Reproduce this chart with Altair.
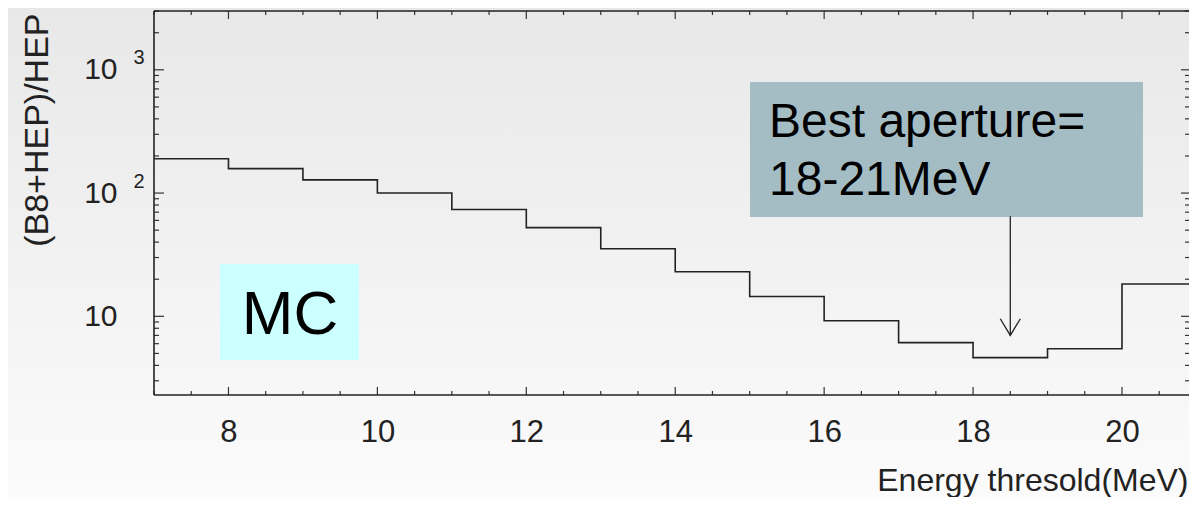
import altair as alt
import pandas as pd

# ---- data ----
edges = [7, 8, 9, 10, 11, 12, 13, 14, 15, 16, 17, 18, 19, 20, 21]
ratio = [190, 158, 128, 100, 73.6, 52.4, 35.3, 23.0, 14.5, 9.2, 6.12, 4.62, 5.45, 18.3]

x_major_ticks = [8, 10, 12, 14, 16, 18, 20]
x_minor_ticks = [7, 7.5, 8.5, 9, 9.5, 10.5, 11, 11.5, 12.5, 13, 13.5, 14.5, 15, 15.5,
                 16.5, 17, 17.5, 18.5, 19, 19.5, 20.5]
y_major_ticks = [10, 100, 1000]
y_sup_ticks = [100, 1000]
y_minor_ticks = [3, 4, 5, 6, 7, 8, 9, 20, 30, 40, 50, 60, 70, 80, 90,
                 200, 300, 400, 500, 600, 700, 800, 900, 2000, 3000]

arrow_x = [18.5]
arrow_top = [65]
arrow_tip = [7.0]

x_title = "Energy thresold(MeV)"
y_title = "(B8+HEP)/HEP"

# ---- layout ----
W, H = 1035, 384
PAD = {"left": 146, "top": 3, "right": 0, "bottom": 102}
FONT = "Liberation Sans"
INK = "#222222"
TICK = "#333333"

df = pd.DataFrame({"x": edges, "y": ratio + [ratio[-1]]})
arrow_df = pd.DataFrame({"ax": arrow_x, "atop": arrow_top, "atip": arrow_tip})
one = alt.Data(values=[{}])

xs = alt.Scale(domain=[7, 20.9], nice=False, zero=False)
ys = alt.Scale(type="log", domain=[2.3, 3000], nice=False)

bg = alt.Chart(one).mark_rect(
    color=alt.Gradient(
        gradient="linear",
        stops=[alt.GradientStop(color="#e8e8e8", offset=0),
               alt.GradientStop(color="#fbfbfb", offset=1)],
        x1=0, x2=0, y1=0, y2=1,
    )
).encode(x=alt.value(-PAD["left"]), x2=alt.value(W), y=alt.value(-PAD["top"]),
         y2=alt.value(H + PAD["bottom"]))

# frame on the three visible sides (the right side lies beyond the picture edge)
frame_top = alt.Chart(one).mark_rule(color=INK, strokeWidth=1.6).encode(
    x=alt.value(0), x2=alt.value(W), y=alt.value(0))
frame_bottom = alt.Chart(one).mark_rule(color=INK, strokeWidth=1.6).encode(
    x=alt.value(0), x2=alt.value(W), y=alt.value(H))
frame_left = alt.Chart(one).mark_rule(color=INK, strokeWidth=1.6).encode(
    x=alt.value(0), y=alt.value(0), y2=alt.value(H))

# main step line with labelled axes
main = alt.Chart(df).mark_line(interpolate="step-after", color=INK, strokeWidth=1.6,
                               clip=True).encode(
    x=alt.X("x:Q", scale=xs, axis=alt.Axis(
        orient="bottom", values=x_major_ticks, ticks=False, tickSize=0, domain=False,
        grid=False, labelFontSize=31, labelPadding=46, labelBaseline="alphabetic",
        title=x_title, titleFontSize=32, titleFontWeight="normal", titleX=W - 1,
        titleY=95, titleAlign="right", titleBaseline="alphabetic", zindex=2)),
    y=alt.Y("y:Q", scale=ys, axis=alt.Axis(
        orient="left", values=y_major_ticks, labelExpr="'10'", ticks=False, tickSize=0,
        domain=False, grid=False, labelFontSize=30, labelPadding=37,
        title=y_title, titleFontSize=34, titleFontWeight="normal", titleAngle=270,
        titleX=-107, titleY=2, titleAlign="right", titleBaseline="alphabetic", zindex=2)),
)

# exponent labels
sup = alt.Chart(pd.DataFrame({"v": y_sup_ticks})).mark_point(opacity=0).encode(
    y=alt.Y("v:Q", scale=ys, axis=alt.Axis(
        orient="left", values=y_sup_ticks, labelExpr="datum.value == 1000 ? '3' : '2'",
        ticks=False, tickSize=0, domain=False, grid=False, title=None, labelFontSize=20,
        labelPadding=10, labelOffset=-12, zindex=2)),
)


# inward tick marks on all four sides
def xticks(vals, length):
    d = pd.DataFrame({"t": vals})
    bottom = alt.Chart(d).mark_rule(color=TICK, strokeWidth=1.2).encode(
        x=alt.X("t:Q", scale=xs, axis=None), y=alt.value(H), y2=alt.value(H - length))
    top = alt.Chart(d).mark_rule(color=TICK, strokeWidth=1.2).encode(
        x=alt.X("t:Q", scale=xs, axis=None), y=alt.value(0), y2=alt.value(length))
    return [bottom, top]


def yticks(vals, length, rlength):
    d = pd.DataFrame({"t": vals})
    left = alt.Chart(d).mark_rule(color=TICK, strokeWidth=1.2).encode(
        y=alt.Y("t:Q", scale=ys, axis=None), x=alt.value(0), x2=alt.value(length))
    right = alt.Chart(d).mark_rule(color=TICK, strokeWidth=1.2).encode(
        y=alt.Y("t:Q", scale=ys, axis=None), x=alt.value(W), x2=alt.value(W - rlength))
    return [left, right]


tick_layers = (xticks(x_major_ticks, 8) + xticks(x_minor_ticks, 4)
               + yticks(y_major_ticks, 10, 8) + yticks(y_minor_ticks, 5, 4))

mc_box = alt.Chart(one).mark_rect(color="#ccffff").encode(
    x=alt.value(66), x2=alt.value(205), y=alt.value(253), y2=alt.value(349))
mc_text = alt.Chart(one).mark_text(text="MC", font=FONT, fontSize=62, align="center",
                                   baseline="alphabetic", color="#000000").encode(
    x=alt.value(136), y=alt.value(323))

best_box = alt.Chart(one).mark_rect(color="#a4bdc4").encode(
    x=alt.value(596), x2=alt.value(989), y=alt.value(71), y2=alt.value(206))
best_t1 = alt.Chart(one).mark_text(text="Best aperture=", font=FONT, fontSize=48, align="left",
                                   baseline="alphabetic", color="#000000").encode(
    x=alt.value(615), y=alt.value(126))
best_t2 = alt.Chart(one).mark_text(text="18-21MeV", font=FONT, fontSize=48, align="left",
                                   baseline="alphabetic", color="#000000").encode(
    x=alt.value(615), y=alt.value(184))

shaft = alt.Chart(arrow_df).mark_rule(color=INK, strokeWidth=1.3).encode(
    x=alt.X("ax:Q", scale=xs, axis=None),
    y=alt.Y("atop:Q", scale=ys, axis=None),
    y2="atip:Q",
)
head = alt.Chart(arrow_df).mark_point(shape="M-0.6,-1L0,0L0.6,-1", size=1115, filled=False,
                                      color=INK, strokeWidth=1.3, opacity=1).encode(
    x=alt.X("ax:Q", scale=xs, axis=None),
    y=alt.Y("atip:Q", scale=ys, axis=None),
)

chart = alt.layer(
    bg, mc_box, mc_text, best_box, best_t1, best_t2, main, sup, *tick_layers, shaft, head,
    frame_top, frame_bottom, frame_left
).resolve_axis(
    x="independent", y="independent"
).properties(
    width=W, height=H,
    autosize=alt.AutoSizeParams(type="none"),
    padding=PAD,
).configure_view(
    stroke=None
).configure_axis(
    labelFont=FONT, titleFont=FONT, labelColor=INK, titleColor=INK,
)

chart.save("out.html", embed_options={"renderer": "svg", "actions": False})
